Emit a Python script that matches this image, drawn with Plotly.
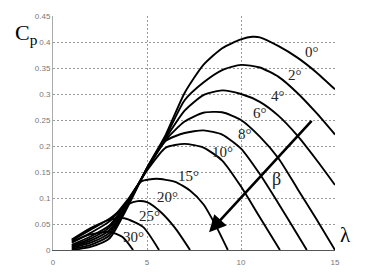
import plotly.graph_objects as go

# ---- data ----
pitch_labels = ["0°", "2°", "4°", "6°", "8°", "10°", "15°", "20°", "25°", "30°"]

lam_0 = [1, 2, 3, 4, 5, 6, 7, 8, 9, 10, 10.6, 11, 12, 13, 14, 15]
cp_0 = [0.0, 0.006, 0.022, 0.085, 0.158, 0.222, 0.302, 0.356, 0.388, 0.405, 0.41, 0.409, 0.392, 0.37, 0.342, 0.309]

lam_2 = [1, 2, 3, 4, 5, 6, 7, 8, 9, 10, 11, 12, 13, 14, 15]
cp_2 = [0.002, 0.01, 0.028, 0.088, 0.158, 0.218, 0.288, 0.322, 0.346, 0.356, 0.351, 0.333, 0.302, 0.264, 0.222]

lam_4 = [1, 2, 3, 4, 5, 6, 7, 8, 9, 10, 11, 12, 13, 14, 15]
cp_4 = [0.004, 0.014, 0.033, 0.09, 0.157, 0.215, 0.268, 0.298, 0.307, 0.300, 0.285, 0.258, 0.22, 0.174, 0.125]

lam_6 = [1, 2, 3, 4, 5, 6, 7, 8, 9, 10, 11, 12, 13, 14, 15]
cp_6 = [0.006, 0.018, 0.038, 0.092, 0.156, 0.212, 0.247, 0.264, 0.265, 0.25, 0.218, 0.176, 0.118, 0.06, 0.0]

lam_8 = [1, 2, 3, 4, 5, 6, 7, 8, 9, 10, 11, 12, 13, 13.5]
cp_8 = [0.008, 0.022, 0.043, 0.094, 0.155, 0.21, 0.225, 0.23, 0.222, 0.195, 0.146, 0.089, 0.03, 0.0]

lam_10 = [1, 2, 3, 4, 5, 6, 7, 8, 9, 10, 11, 12.07]
cp_10 = [0.01, 0.026, 0.047, 0.096, 0.153, 0.197, 0.204, 0.197, 0.172, 0.122, 0.063, 0.0]

lam_15 = [1, 2, 3, 4, 4.7, 5.5, 6.5, 7.3, 8, 8.7, 9.3]
cp_15 = [0.014, 0.033, 0.055, 0.098, 0.132, 0.137, 0.131, 0.114, 0.088, 0.044, 0.0]

lam_20 = [1, 2, 3, 4, 4.5, 5, 5.7, 6.5, 7.29]
cp_20 = [0.018, 0.039, 0.06, 0.088, 0.094, 0.092, 0.074, 0.042, 0.0]

lam_25 = [1, 2, 3, 3.8, 4.8, 5.64]
cp_25 = [0.02, 0.042, 0.058, 0.061, 0.044, 0.0]

lam_30 = [1, 2, 3, 3.7, 4.26]
cp_30 = [0.016, 0.03, 0.035, 0.025, 0.0]

label_lam = [13.8, 12.87, 11.97, 11.0, 10.2, 9.0, 7.2, 6.1, 5.15, 4.26]
label_cp = [0.381, 0.336, 0.296, 0.264, 0.224, 0.188, 0.143, 0.101, 0.065, 0.025]

x_ticks = [0, 5, 10, 15]
y_ticks = [0, 0.05, 0.1, 0.15, 0.2, 0.25, 0.3, 0.35, 0.4, 0.45]
y_tick_text = ["0", "0.05", "0.1", "0.15", "0.2", "0.25", "0.3", "0.35", "0.4", "0.45"]

arrow_tail = (13.83, 0.251)
arrow_head = (8.3, 0.034)
beta_pos = (11.9, 0.137)

curves = [(lam_0, cp_0), (lam_2, cp_2), (lam_4, cp_4), (lam_6, cp_6), (lam_8, cp_8),
          (lam_10, cp_10), (lam_15, cp_15), (lam_20, cp_20), (lam_25, cp_25), (lam_30, cp_30)]

fig = go.Figure()
for (lx, cy), name in zip(curves, pitch_labels):
    fig.add_trace(go.Scatter(x=lx, y=cy, mode="lines", name=name, showlegend=False,
                             line=dict(color="black", width=1.9, shape="spline", smoothing=0.6)))

serif = "Liberation Serif, Times New Roman, serif"
for t, lx, ly in zip(pitch_labels, label_lam, label_cp):
    fig.add_annotation(x=lx, y=ly, xref="x", yref="y", text=t, showarrow=False,
                       font=dict(family=serif, size=15, color="#222"))

fig.add_annotation(x=arrow_head[0], y=arrow_head[1], ax=arrow_tail[0], ay=arrow_tail[1],
                   xref="x", yref="y", axref="x", ayref="y", text="", showarrow=True,
                   arrowhead=2, arrowsize=1.3, arrowwidth=2.6, arrowcolor="black")
fig.add_annotation(x=beta_pos[0], y=beta_pos[1], xref="x", yref="y", text="β", showarrow=False,
                   font=dict(family=serif, size=18, color="#222"))
fig.add_annotation(x=-0.142, y=0.99, xref="paper", yref="paper", text="C<sub>p</sub>",
                   showarrow=False, font=dict(family=serif, size=22, color="black"))
fig.add_annotation(x=1.064, y=0.005, xref="paper", yref="paper", text="λ",
                   showarrow=False, font=dict(family=serif, size=21, color="black"))

grid = dict(showgrid=True, gridcolor="#9a9a9a", gridwidth=1, griddash="2px,2px", zeroline=False)
fig.update_xaxes(range=[0, 15], tickvals=x_ticks, showline=True, linecolor="#555", linewidth=1.2,
                 ticks="", ticklabelstandoff=4,
                 tickfont=dict(family="Liberation Sans, Arial", size=8, color="#777"), **grid)
fig.update_yaxes(range=[0, 0.45], tickvals=y_ticks, ticktext=y_tick_text, showline=True,
                 linecolor="#aaa", linewidth=1, ticks="",
                 tickfont=dict(family="Liberation Sans, Arial", size=8, color="#777"), **grid)
fig.update_layout(width=373, height=279, margin=dict(l=53, r=38, t=12, b=18),
                  plot_bgcolor="white", paper_bgcolor="white")
fig.write_html("out.html")
